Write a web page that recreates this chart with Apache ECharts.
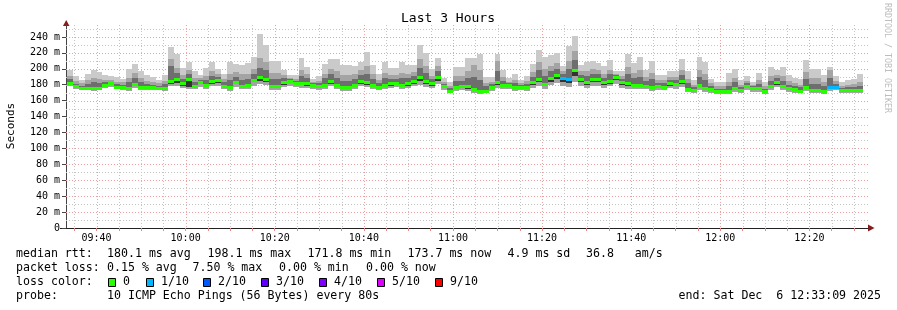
<!DOCTYPE html>
<html><head><meta charset="utf-8">
<script src="https://cdn.jsdelivr.net/npm/echarts@6/dist/echarts.min.js"></script>
<style>html,body{margin:0;padding:0;background:#fff;}#c{width:897px;height:310px;}</style>
</head><body><div id="c"></div>
<script>
// ---- time frame (seconds since midnight) ----
const startTime = '09:33:09';
const endTime = '12:33:09';
const stepSeconds = 80;
const firstBoundaryOffset = 11;

// ---- per-step values (ms), 134 steps ----
const median = [182.5,177.9,176.3,176.3,176.3,176.3,180,181.7,177.5,177,175.8,181.2,177.5,176.7,176.7,176.3,176.3,185,186.7,181.7,187.1,178.8,183.3,179.6,184.2,186.3,178.3,176.7,183.3,178.3,180,186.5,189.6,187.5,
178.3,177.9,182.9,185,182,182,181.7,179.2,177.9,180,185,179.2,176.7,176.7,180,185,182.9,180,177.5,179.6,181.7,181.7,180,181.7,185,189.6,185,181.7,189.6,177.9,172.5,177.5,177.9,177.9,
174.6,172.5,172.5,177,183,179.5,179.5,177,177,177,183,187.5,181.5,188.3,191.7,188,187,198,187,183,187,187,183,185,189.6,183,182,180,179.5,179,177,178,177.5,182,
180.8,184.2,175,173.3,179.2,175.8,174.6,171.7,171.7,171.7,175.4,173.3,177.9,175.4,175.4,172.1,177.9,182.9,178.3,175.4,174.6,172.5,177.5,173.3,173.3,171.7,177.5,177.5,173.3,173.3,173.3,173.3];
const pingMin = [178,174,173,173,172,173,176,177,174,173,172,176,173,173,173,173,172,178,178,176,175,174,177,175,178,179,174,172,177,174,175,179,181,180,
173,173,177,179,177,176,176,175,173,175,178,174,172,172,175,178,177,175,173,175,176,177,175,176,178,180,177,176,181,173,169,172,173,172,
170,168,169,172,176,174,175,172,173,172,176,179,175,180,182,178,177,184,179,176,179,179,176,178,181,176,175,174,174,174,172,173,173,176,
175,177,171,169,173,171,170,168,168,168,171,169,173,171,171,168,173,177,173,171,170,169,172,169,169,168,172,173,169,169,170,170];
const pingLow = [180,176,174.5,174.5,174.5,174.5,178,179.5,175.5,175,174,179,175.5,175,175,174.5,174.5,181,182,179,177,176.5,180.5,177.5,181,182.5,176,174.5,180.5,176,177.5,183,185,184,
176,175.5,180,182,179.5,179.5,179,177,175.5,177.5,181.5,176.5,174.5,174.5,177.5,181.5,180,177.5,175.5,177,179,179.5,177.5,179,181.5,184.5,181,179,185,175.5,170.5,175,175.5,175,
172.5,170.5,170.5,174.5,179.5,177,177.5,174.5,175,174.5,179.5,183,178.5,184,187,183,182,191,183,179.5,183,183,179.5,181.5,185.5,179.5,179,177.5,177,176.5,174.5,175.5,175,179,
178,181,173,171.5,176.5,173.5,172.5,170,170,170,173.5,171.5,175.5,173.5,173.5,170,175.5,180,176,173.5,172.5,171,175,171.5,171.5,170,175,175.5,171.5,171.5,171.5,171.5];
const pingUp = [187,181,179,181,183,182,183,184,181,180,183,189,183,181,180,179,181,203,195,187,193,184,186,186,191,190,183,186,190,186,187,193,201,198,
187,187,188,187,185,191,188,182,182,188,193,189,185,185,187,192,194,187,182,188,187,187,188,188,191,201,195,187,197,181,176,185,185,188,
190,186,178,181,197,185,182,182,180,181,190,198,191,197,200,193,200,211,192,191,194,193,189,193,192,187,193,188,190,185,187,182,182,186,
186,192,182,177,190,186,178,175,175,179,183,177,182,178,181,175,185,188,185,180,179,177,187,181,181,178,188,181,176,177,177,179];
const pingHigh = [191,185,182,186,189,187,186,186,184,183,189,195,188,185,184,182,185,212,201,192,198,189,188,191,197,194,187,194,196,193,194,200,214,208,
195,195,192,189,187,199,193,184,185,194,200,197,192,192,193,198,204,194,186,195,192,192,195,194,196,212,204,191,203,184,178,191,191,197,
205,198,182,184,210,190,184,186,182,185,196,208,200,204,207,197,210,222,197,197,200,198,194,199,194,191,202,195,199,190,195,186,186,190,
190,199,187,180,199,194,182,178,178,184,189,180,185,180,186,178,191,192,191,185,182,180,196,188,188,183,198,185,179,180,181,184];
const pingMax = [198.8,190.4,186.3,193.3,198.8,195.8,191.7,190.4,189.2,187.5,200,206.3,197.5,191.7,189.2,186.3,192.5,227.9,218.8,200.8,207.9,196.7,192.5,200.8,208.3,200,193.8,207.9,205.8,205,207,215,243.3,230,
209.2,209.2,198.8,192.5,191.7,213.3,202,187.5,190.4,206.3,211.7,211.7,204.2,204.2,202.9,207.9,221.7,205,193.8,207.9,200.8,200.8,207.9,204.2,204.2,230,219.2,199.6,213.8,188.3,183.3,201.7,201.7,213.3,
213.3,218.8,189.6,189.6,218.8,198.8,188.3,193.3,186.3,190.8,205.8,223.8,214.6,216.7,219.6,203.8,229.2,241.3,205,208.3,210,207.1,202.9,211.3,197.5,197.5,218.8,206.7,215.4,198.8,209.2,192.5,192.5,196.7,
196.7,212,197.5,186,215,209,187.5,183,183,194.6,200,186,191,184,194.6,182.9,201.7,198.8,201.7,192.5,189,187,211,200,200,192.5,201.7,191,182.9,186,187,193.3];
// lost pings (out of 10) per step
const lostPings = [0,0,0,0,0,0,0,0,0,0,0,0,0,0,0,0,0,0,0,0,0,0,0,0,0,0,0,0,0,0,0,0,0,0,
0,0,0,0,0,0,0,0,0,0,0,0,0,0,0,0,0,0,0,0,0,0,0,0,0,0,0,0,0,0,0,0,0,0,
0,0,0,0,0,0,0,0,0,0,0,0,0,0,0,1,1,0,0,0,0,0,0,0,0,0,0,0,0,0,0,0,0,0,
0,0,0,0,0,0,0,0,0,0,0,0,0,0,0,0,0,0,0,0,0,0,0,0,0,0,1,1,0,0,0,0];

// ---- axes ----
const yTickValues = [0,20,40,60,80,100,120,140,160,180,200,220,240];
const yMinorValues = [10,30,50,70,90,110,130,150,170,190,210,230,250];
const yMax = 255;
const xLabelTimes = ['09:40','10:00','10:20','10:40','11:00','11:20','11:40','12:00','12:20'];
const xMinorTimes = ['09:35','09:45','09:50','09:55','10:05','10:10','10:15','10:25','10:30','10:35','10:45','10:50','10:55','11:05','11:10','11:15','11:25','11:30','11:35','11:45','11:50','11:55','12:05','12:10','12:15','12:25','12:30'];

// ---- legend ----
const lossLabels = ['0','1/10','2/10','3/10','4/10','5/10','9/10'];
const lossColors = ['#26ff00','#00b8ff','#0059ff','#5e00ff','#7e00ff','#dd00ff','#ff0000'];
const rttFields = ['180.1 ms avg','198.1 ms max','171.8 ms min','173.7 ms now','4.9 ms sd','36.8   am/s'];
const lossFields = ['0.15 % avg','7.50 % max','0.00 % min','0.00 % now'];
const probeText = '10 ICMP Echo Pings (56 Bytes) every 80s';
const endLine = 'end: Sat Dec  6 12:33:09 2025';
const titleText = 'Last 3 Hours';

// layout constants (pixels)
const rttFieldX = [107,207.5,307.5,407.5,507.5,586];
const lossFieldX = [107,192.5,279,366];
const boxX = [108,146,203,261,319,377,435];

function toSec(s){const p=s.split(':').map(Number);return p[0]*3600+p[1]*60+(p[2]||0);}
function fmt(v){const h=Math.floor(v/3600),m=Math.round((v%3600)/60);return String(h).padStart(2,'0')+':'+String(m).padStart(2,'0');}
const t0 = toSec(startTime), t1 = toSec(endTime);
const lossIdx = n => n<=0?0:(n>=6?6:n);

const FONT = 'DejaVu Sans Mono';
const chart = echarts.init(document.getElementById('c'), null, {renderer:'canvas'});

const smokeData = median.map((m,i)=>[t0+firstBoundaryOffset+i*stepSeconds, pingMin[i], pingLow[i], m, pingUp[i], pingHigh[i], pingMax[i], lostPings[i]]);
const gridData = [];
yMinorValues.forEach(v=>gridData.push([0,v,0]));
yTickValues.filter(v=>v>0).forEach(v=>gridData.push([0,v,1]));
xMinorTimes.forEach(t=>gridData.push([1,toSec(t),0]));
xLabelTimes.forEach(t=>gridData.push([1,toSec(t),1]));

const option = {
  animation:false,
  backgroundColor:'#ffffff',
  grid:{left:66,right:29,top:25,bottom:82},
  xAxis:{type:'value',min:t0,max:t1,
    axisLine:{show:true,lineStyle:{color:'#222',width:1}},
    axisTick:{show:true,length:3,customValues:xMinorTimes.concat(xLabelTimes).map(toSec),lineStyle:{color:'#e08a8a'}},
    axisLabel:{customValues:xLabelTimes.map(toSec),formatter:v=>fmt(v),fontFamily:FONT,fontSize:10,color:'#000',margin:5},
    splitLine:{show:false}},
  yAxis:{type:'value',min:0,max:yMax,
    axisLine:{show:true,lineStyle:{color:'#444',width:1}},
    axisTick:{show:true,length:4,customValues:yTickValues,lineStyle:{color:'#444'}},
    axisLabel:{customValues:yTickValues,formatter:v=>v===0?'0':v+' m',fontFamily:FONT,fontSize:10,color:'#000',margin:6},
    splitLine:{show:false}},
  series:[
    {type:'custom',z:1,silent:true,data:gridData,
     renderItem:function(params,api){
       const cs=params.coordSys;
       const dir=api.value(0), v=api.value(1), major=api.value(2);
       const color = major? '#eea0a0' : '#c4c4c4';
       let shape;
       if(dir===0){const y=Math.round(api.coord([t0,v])[1])+0.5;shape={x1:cs.x,y1:y,x2:cs.x+cs.width,y2:y};}
       else {const x=Math.round(api.coord([v,0])[0])+0.5;shape={x1:x,y1:cs.y,x2:x,y2:cs.y+cs.height};}
       return {type:'line',shape,style:{stroke:color,lineWidth:1,lineDash:[1,2]}};
     }},
    {type:'custom',z:2,silent:true,data:smokeData,
     renderItem:function(params,api){
       const ts=api.value(0);
       const xa=Math.round(api.coord([ts,0])[0]), xb=Math.round(api.coord([ts+stepSeconds,0])[0]);
       const Y=v=>Math.round(api.coord([ts,v])[1]);
       const rect=(top,bot,fill)=>({type:'rect',shape:{x:xa,y:Y(top),width:xb-xa,height:Math.max(0,Y(bot)-Y(top))},style:{fill}});
       const mn=api.value(1),lw=api.value(2),md=api.value(3),upv=api.value(4),hh=api.value(5),mx=api.value(6),lost=api.value(7);
       const ym=api.coord([ts,md])[1];
       return {type:'group',children:[
         rect(mx,mn,'#cacaca'),
         rect(hh,mn,'#a4a4a4'),
         rect(upv,lw,'#6e6e6e'),
         rect(md,lw,'#343434'),
         {type:'rect',shape:{x:xa,y:Math.round(ym)-1,width:xb-xa,height:3},style:{fill:lossColors[lossIdx(lost)]}}
       ]};
     }}
  ],
  graphic:[]
};

const g = option.graphic;
const txt=(x,y,text,extra)=>({type:'text',x,y,style:Object.assign({text,fontFamily:FONT,fontSize:11.6,fill:'#000',textVerticalAlign:'middle'},extra||{})});
g.push({type:'text',x:448,y:19,style:{text:titleText,fontFamily:FONT,fontSize:13,fill:'#000',textAlign:'center',textVerticalAlign:'middle'}});
g.push({type:'text',x:11,y:126,rotation:Math.PI/2,style:{text:'Seconds',fontFamily:FONT,fontSize:11,fill:'#000',textAlign:'center',textVerticalAlign:'middle'}});
g.push({type:'text',x:887,y:58,rotation:-Math.PI/2,style:{text:'RRDTOOL / TOBI OETIKER',fontFamily:FONT,fontSize:8.3,fill:'#bdbdbd',textAlign:'center',textVerticalAlign:'middle'}});
g.push({type:'polygon',shape:{points:[[63,26],[69.5,26],[66.2,20]]},style:{fill:'#8b1a1a'}});
g.push({type:'polygon',shape:{points:[[868,224.5],[868,231.5],[874.5,228]]},style:{fill:'#8b1a1a'}});
g.push({type:'line',shape:{x1:60,y1:228.5,x2:66,y2:228.5},style:{stroke:'#222',lineWidth:1}});
g.push(txt(16,254,'median rtt:'));
rttFields.forEach((f,i)=>g.push(txt(rttFieldX[i],254,f)));
g.push(txt(16,268,'packet loss:'));
lossFields.forEach((f,i)=>g.push(txt(lossFieldX[i],268,f)));
g.push(txt(16,282,'loss color:'));
lossLabels.forEach((l,i)=>{
  g.push({type:'rect',shape:{x:boxX[i]+0.5,y:278.5,width:7,height:8},style:{fill:lossColors[i],stroke:'#000',lineWidth:1}});
  g.push(txt(boxX[i]+15,282,l));
});
g.push(txt(16,296,'probe:'));
g.push(txt(107,296,probeText));
g.push(txt(881,296,endLine,{textAlign:'right'}));

chart.setOption(option);
</script></body></html>
